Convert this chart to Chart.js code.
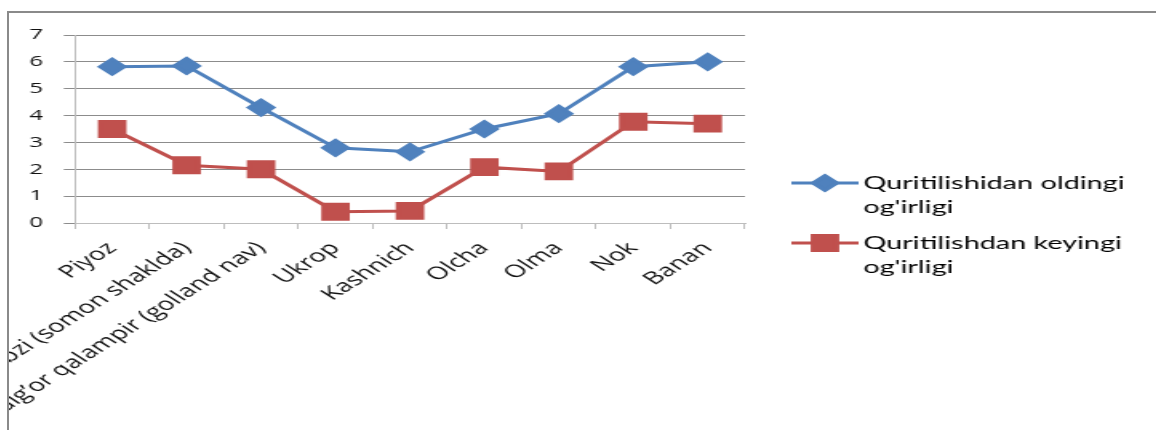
<!DOCTYPE html>
<html>
<head>
<meta charset="utf-8">
<script src="https://cdn.jsdelivr.net/npm/chart.js"></script>
<style>
  body { margin: 0; background: #fff; }
  #frame {
    position: absolute; left: 7px; top: 11px;
    width: 1147px; height: 417px;
    border-left: 2px solid #8a8a8a; border-top: 2px solid #8a8a8a;
    overflow: hidden;
  }
  /* the original picture is stretched sideways, so the chart is too */
  #stretch {
    width: 717px; height: 417px;
    transform: scaleX(1.6); transform-origin: 0 0;
  }
</style>
</head>
<body>
<div id="frame"><div id="stretch"><canvas id="myChart"></canvas></div></div>

<script>
  const categories = ["Piyoz", "Sabzi (somon shaklda)", "Bulg\u2019or qalampir (golland nav)", "Ukrop", "Kashnich", "Olcha", "Olma", "Nok", "Banan"];
  const beforeDrying = [5.82, 5.85, 4.3, 2.8, 2.65, 3.5, 4.07, 5.82, 6.0];
  const afterDrying = [3.5, 2.15, 2.0, 0.42, 0.45, 2.08, 1.92, 3.77, 3.7];
  const seriesNames = [["Quritilishidan oldingi", "og'irligi"], ["Quritilishdan keyingi", "og'irligi"]];
  const yTicks = [0, 1, 2, 3, 4, 5, 6, 7];

  // legend drawn by hand so the names can wrap on two lines like the original
  const sideLegend = {
    id: 'sideLegend',
    afterDraw(chart) {
      const ctx = chart.ctx;
      const x0 = 489, x1 = 531, tx = 534;
      const rows = [170, 230];
      chart.data.datasets.forEach((ds, i) => {
        const y = rows[i];
        ctx.save();
        ctx.strokeStyle = ds.borderColor;
        ctx.lineWidth = 3;
        ctx.beginPath();
        ctx.moveTo(x0, y);
        ctx.lineTo(x1, y);
        ctx.stroke();
        ctx.fillStyle = ds.pointBackgroundColor;
        ctx.strokeStyle = ds.pointBackgroundColor;
        Chart.helpers.drawPoint(ctx, {pointStyle: ds.pointStyle, radius: ds.pointRadius, borderWidth: 1}, (x0 + x1) / 2, y);
        ctx.fillStyle = '#000';
        ctx.font = '18px Lato';
        ctx.textBaseline = 'middle';
        ctx.textAlign = 'left';
        ds.label.forEach((line, k) => ctx.fillText(line, tx, y + k * 24));
        ctx.restore();
      });
    }
  };

  const ctx = document.getElementById('myChart').getContext('2d');
  new Chart(ctx, {
    type: 'line',
    data: {
      labels: categories,
      datasets: [{
        label: seriesNames[0],
        data: beforeDrying,
        borderColor: '#4F81BD',
        backgroundColor: '#4F81BD',
        pointBackgroundColor: '#4F81BD',
        pointBorderColor: '#4F81BD',
        pointStyle: 'rectRot',
        pointRadius: 7.5,
        pointHoverRadius: 7.5,
        borderWidth: 3,
        tension: 0
      }, {
        label: seriesNames[1],
        data: afterDrying,
        borderColor: '#C0504D',
        backgroundColor: '#C0504D',
        pointBackgroundColor: '#C0504D',
        pointBorderColor: '#C0504D',
        pointStyle: 'rect',
        pointRadius: 10.5,
        pointHoverRadius: 10.5,
        borderWidth: 3,
        tension: 0
      }]
    },
    options: {
      responsive: true,
      maintainAspectRatio: false,
      animation: false,
      layout: { padding: { top: 20, right: 257, bottom: 0, left: 0 } },
      plugins: { legend: { display: false }, tooltip: { enabled: false } },
      scales: {
        x: {
          offset: true,
          grid: { offset: true, drawOnChartArea: false, drawTicks: true, tickLength: 6, color: '#bdbdbd' },
          border: { color: '#bdbdbd', width: 1 },
          ticks: {
            autoSkip: false, minRotation: 45, maxRotation: 45, padding: 9,
            color: '#111', font: { family: 'Open Sans', size: 17.5 }
          },
          afterFit(scale) { scale.height = 207; }
        },
        y: {
          min: 0,
          max: 7,
          afterBuildTicks(scale) { scale.ticks = yTicks.map(v => ({ value: v })); },
          grid: { color: '#8c8c8c', drawTicks: true, tickLength: 7 },
          border: { color: '#bdbdbd', width: 1 },
          ticks: { padding: 13, color: '#111', font: { family: 'Open Sans', size: 15 } },
          afterFit(scale) { scale.width = 41.25; }
        }
      }
    },
    plugins: [sideLegend]
  });
</script>
</body>
</html>
